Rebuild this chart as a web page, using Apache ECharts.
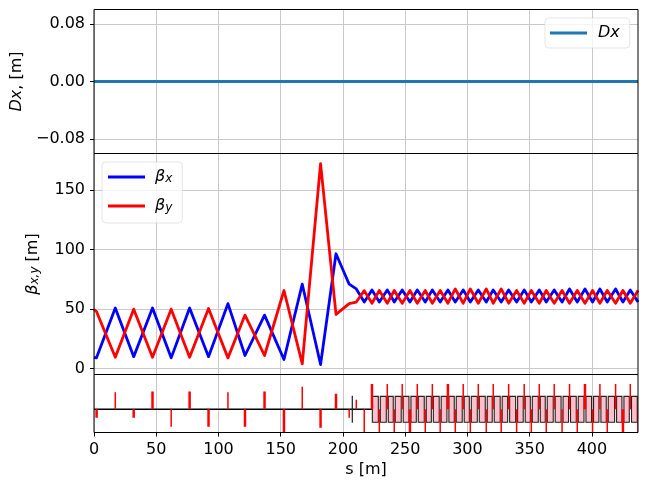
<!DOCTYPE html>
<html>
<head>
<meta charset="utf-8">
<style>html,body{margin:0;padding:0;background:#fff}#c{width:647px;height:487px}</style>
<script src="https://cdn.jsdelivr.net/npm/echarts@6/dist/echarts.min.js"></script>
</head>
<body>
<div id="c"></div>
<script>
// Twiss functions along the beamline: positions in metres, beta in metres.
const sPoints = [0, 2, 17.1, 31.9, 47, 62, 76.8, 92, 107.6, 121.3, 137, 152.6, 167.3, 182, 194.4, 205, 210.7, 217.1,
  223.3, 229.2, 235.6, 241.2, 247.6, 253.8, 259.7, 266.1, 271.8, 278.1, 284.3, 290.2, 296.6, 302.3, 308.7, 315.1,
  320.7, 327.1, 333.1, 339.5, 345.6, 351.3, 357.7, 363.3, 369.7, 376, 382, 388.2, 394.4, 400.5, 406.4, 412.3, 419,
  424.9, 430.8, 437];
const betaX = [9.5, 9, 51, 10, 51, 9, 51, 10, 54.6, 11, 45, 7.6, 71, 3.4, 96.6, 71, 67, 56,
  66.2, 56, 66.2, 56, 66.2, 56, 66.2, 56, 66.2, 56, 66.2, 56, 66.2, 56, 66.2, 56,
  66.2, 56, 66.2, 56, 66.2, 56, 66.2, 56, 66.2, 56, 67, 56, 67, 56, 67, 56, 67,
  56, 66.2, 56];
const betaY = [49.7, 48, 9.5, 50, 9.5, 50, 9.5, 50.6, 9, 45, 11, 65.7, 4, 172.4, 45.6, 54.6, 56, 65.6,
  55, 65.7, 55, 65.7, 55, 65.7, 55, 65.7, 55, 65.7, 55, 67, 55, 67, 55, 67,
  55, 67, 55, 65.7, 55, 65.7, 55, 65.7, 55, 65.7, 55, 65.7, 55, 65.7, 55, 65.7, 55,
  65.7, 55, 65.7];
const dxS = [0, 437];
const dxValues = [0, 0];

// Quadrupoles: position, signed strength, length.
const quadS = [2.1, 17.1, 31.9, 47, 62, 76.8, 92, 107.6, 121.3, 137, 152.6, 167.3, 182, 194.4, 205, 210.7, 217.1,
  223.3, 229.2, 235.6, 241.2, 247.6, 253.8, 259.7, 266.1, 271.8, 278.1, 284.3, 290.2, 296.6, 302.3, 308.7, 315.1,
  320.7, 327.1, 333.1, 339.5, 345.6, 351.3, 357.7, 363.3, 369.7, 376, 382, 388.2, 394.4, 400.5, 406.4, 412.3, 419,
  424.9, 430.8, 437];
const quadK = [-0.66, 1.33, -0.66, 1.38, -1.35, 1.38, -1.35, 1.33, -1.35, 1.38, -1.8, 1.74, -1.43, 1.2, -0.66, 0.74, -1.8,
  1.97, -1.8, 1.97, -1.8, 1.97, -1.8, 1.97, -1.8, 1.97, -1.8, 1.97, -1.8, 1.97, -1.8, 1.97, -1.8,
  1.97, -1.8, 1.97, -1.8, 1.97, -1.8, 1.97, -1.8, 1.97, -1.8, 1.97, -1.8, 1.97, -1.8, 1.97, -1.8, 1.97,
  -1.8, 1.97, -1.8];
const quadL = [2, 1.2, 2, 2, 1.2, 2, 2, 1.2, 2, 2, 2, 1.2, 2, 2, 1.2, 1.2, 1.2,
  2, 1.2, 1.2, 1.2, 1.2, 2, 1.2, 1.2, 1.2, 1.2, 2, 1.2, 1.2, 1.2, 1.2, 1.2,
  1.2, 1.2, 1.2, 1.2, 1.2, 1.2, 1.2, 1.2, 1.2, 1.2, 1.2, 1.2, 2, 1.2, 1.2, 1.2, 1.2,
  2, 1.2, 1.2];

// Dipoles: entrance and exit positions.
const dipoleStart = [207.45, 223.6, 230, 236.4, 242, 248.4, 254.6, 260.5, 266.9, 272.6, 278.9, 285.1, 291, 297.4, 303.1, 309.5,
  315.9, 321.5, 327.9, 333.9, 340.3, 346.4, 352.1, 358.5, 364.1, 370.5, 376.8, 382.8, 389, 395.2, 401.3, 407.2, 413.1, 419.8,
  425.7, 431.8];
const dipoleEnd = [207.55, 228.4, 234.8, 240.4, 246.8, 253, 258.9, 265.3, 271, 277.3, 283.5, 289.4, 295.8, 301.5, 307.9, 314.3,
  319.9, 326.3, 332.3, 338.7, 344.8, 350.5, 356.9, 362.5, 368.9, 375.2, 381.2, 387.4, 393.6, 399.7, 405.6, 411.5, 418.2,
  424.1, 430, 436.4];

// Axis scales and tick labels.
const sMax = 437;
const sTicks = [0, 50, 100, 150, 200, 250, 300, 350, 400];
const dxTicks = [-0.08, 0, 0.08];
const betaTicks = [0, 50, 100, 150];

const FONT = '"DejaVu Sans"';
const GRID = '#c9c9c9';
const zip = (a, b) => a.map((v, i) => [v, b[i]]);

const panelGrid = (top, height) => ({
  left: 94, width: 544, top, height, show: true, outerBoundsMode: 'none',
  borderColor: '#000', borderWidth: 1, backgroundColor: 'transparent', containLabel: false, z: 5
});
const sAxis = (gridIndex, labelled) => ({
  type: 'value', gridIndex, min: 0, max: sMax,
  axisLine: { show: false, onZero: false },
  axisTick: { show: labelled, length: 4, customValues: sTicks, lineStyle: { color: '#000', width: 1 } },
  axisLabel: { show: labelled, customValues: sTicks, color: '#000', fontFamily: FONT, fontSize: 16, margin: 9 },
  splitLine: { show: true, lineStyle: { color: GRID, width: 1 } },
  ...(labelled ? { name: 's [m]', nameLocation: 'middle', nameGap: 29,
    nameTextStyle: { color: '#000', fontFamily: FONT, fontSize: 16 } } : {})
});
const valueAxis = (gridIndex, min, max, ticks, fmt, name, nameGap, rich) => ({
  type: 'value', gridIndex, min, max,
  name, nameLocation: 'middle', nameGap, nameRotate: 90,
  nameTextStyle: { color: '#000', fontFamily: FONT, fontSize: 16, rich },
  axisLine: { show: false, onZero: false },
  axisTick: { show: true, length: 4, customValues: ticks, lineStyle: { color: '#000', width: 1 } },
  axisLabel: { show: true, customValues: ticks, formatter: fmt, color: '#000', fontFamily: FONT, fontSize: 16, margin: 9 },
  splitLine: { show: true, lineStyle: { color: GRID, width: 1 } }
});
const legendBox = {
  show: true, orient: 'vertical', selectedMode: false, icon: 'rect',
  backgroundColor: 'rgba(255,255,255,0.8)', borderColor: 'rgba(204,204,204,0.5)', borderWidth: 1, borderRadius: 4
};
const italic = { fontFamily: FONT, fontStyle: 'italic', fontSize: 16, color: '#000' };
const plain = { fontFamily: FONT, fontSize: 16, color: '#000' };
const sub = { ...italic, fontSize: 12, verticalAlign: 'bottom', lineHeight: 12 };

const option = {
  animation: false,
  backgroundColor: '#fff',
  grid: [panelGrid(9.5, 144), panelGrid(153.5, 221), panelGrid(374.5, 58)],
  xAxis: [sAxis(0, false), sAxis(1, false), sAxis(2, true)],
  yAxis: [
    valueAxis(0, -0.1, 0.1, dxTicks, v => v.toFixed(2).replace('-', '\u2212'), '{i|Dx}{n|, [m]}', 68, { i: italic, n: plain }),
    valueAxis(1, -5, 181, betaTicks, v => String(v), '{i|\u03b2}{s|x,y}{n| [m]}', 53, { i: italic, s: sub, n: plain }),
    { type: 'value', gridIndex: 2, min: -1.8, max: 2.7, axisLine: { show: false, onZero: false }, axisTick: { show: false },
      axisLabel: { show: false }, splitLine: { show: false } }
  ],
  legend: [
    { ...legendBox, data: ['Dx'], left: 545, top: 18, padding: [7, 10, 7, 5], itemWidth: 37, itemHeight: 3,
      textStyle: { ...italic, padding: [0, 0, 0, 6] } },
    { ...legendBox, data: ['\u03b2x', '\u03b2y'], left: 102, top: 162, padding: [7, 10, 9, 6], itemWidth: 37, itemHeight: 3, itemGap: 13,
      textStyle: { ...italic, padding: [0, 0, 0, 5], rich: { i: italic, s: sub } },
      formatter: n => `{i|\u03b2}{s|${n[1]}}` }
  ],
  series: [
    { name: 'Dx', type: 'line', xAxisIndex: 0, yAxisIndex: 0, showSymbol: false, symbol: 'none',
      data: zip(dxS, dxValues), itemStyle: { color: '#1f77b4' }, lineStyle: { color: '#1f77b4', width: 2.8 } },
    { name: '\u03b2x', type: 'line', xAxisIndex: 1, yAxisIndex: 1, showSymbol: false, symbol: 'none',
      data: zip(sPoints, betaX), itemStyle: { color: '#0000ff' }, lineStyle: { color: '#0000ff', width: 2.8, join: 'round' } },
    { name: '\u03b2y', type: 'line', xAxisIndex: 1, yAxisIndex: 1, showSymbol: false, symbol: 'none',
      data: zip(sPoints, betaY), itemStyle: { color: '#ff0000' }, lineStyle: { color: '#ff0000', width: 2.8, join: 'round' } },
    // Straight section reference line of the lattice strip.
    { type: 'line', xAxisIndex: 2, yAxisIndex: 2, showSymbol: false, symbol: 'none', z: 2,
      data: [[0, 0], [223.6, 0]], lineStyle: { color: '#000', width: 1.4 } },
    // Dipole boxes.
    { type: 'custom', xAxisIndex: 2, yAxisIndex: 2, clip: true, z: 3,
      data: dipoleStart.map((s, i) => [s, dipoleEnd[i]]),
      encode: { x: [0, 1] },
      renderItem: (params, api) => {
        const a = api.coord([api.value(0), 1]);
        const b = api.coord([api.value(1), -1]);
        return { type: 'rect', shape: { x: a[0], y: a[1], width: b[0] - a[0], height: b[1] - a[1] },
          style: { fill: '#ffc0cb', stroke: '#222', lineWidth: 1.1 } };
      } },
    // Quadrupole strokes, drawn up or down from the reference line.
    { type: 'custom', xAxisIndex: 2, yAxisIndex: 2, clip: true, z: 4,
      data: quadS.map((s, i) => [s, quadK[i], quadL[i]]),
      encode: { x: 0, y: 1 },
      renderItem: (params, api) => {
        const half = api.value(2) / 2;
        const a = api.coord([api.value(0) - half, 0]);
        const b = api.coord([api.value(0) + half, api.value(1)]);
        return { type: 'rect', shape: { x: a[0], y: Math.min(a[1], b[1]), width: b[0] - a[0], height: Math.abs(b[1] - a[1]) },
          style: { fill: '#ff0000' } };
      } }
  ]
};
echarts.init(document.getElementById('c'), null, { renderer: 'canvas' }).setOption(option);
</script>
</body>
</html>
